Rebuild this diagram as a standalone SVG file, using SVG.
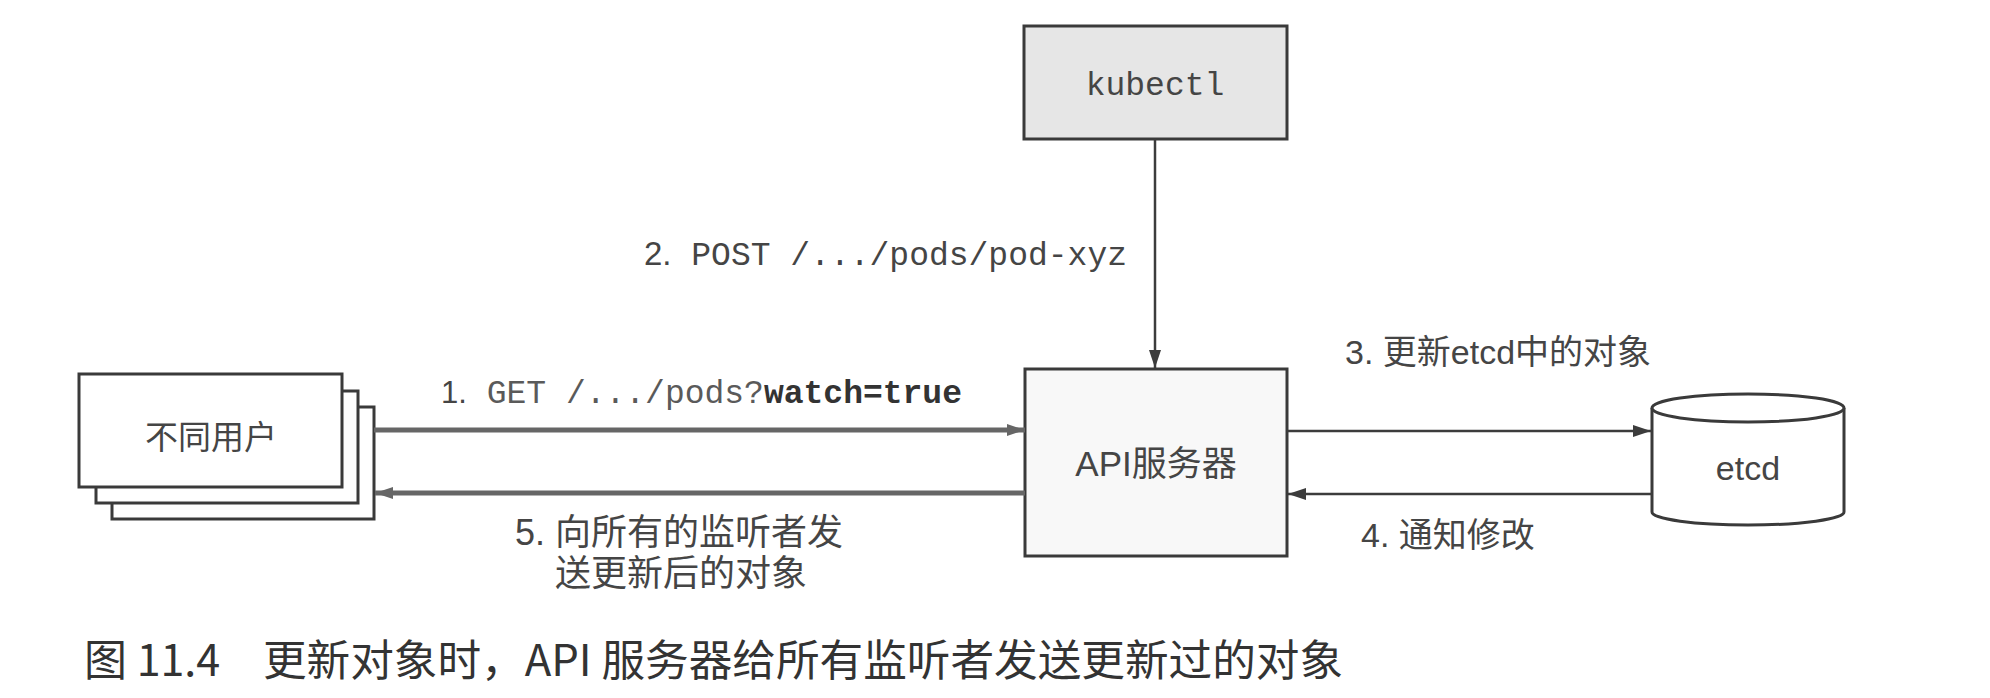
<svg xmlns="http://www.w3.org/2000/svg" width="1990" height="698" viewBox="0 0 1990 698">
<style>
.box{stroke:#3a3a3a;stroke-width:3;fill:#ffffff}
.gray{fill:#e6e6e6}
.api{fill:#f8f8f8}
.lbl{font-family:"Liberation Sans","Noto Sans CJK SC",sans-serif;fill:#454545}
.mono{font-family:"Liberation Mono","DejaVu Sans Mono",monospace}
.thin{stroke:#3c3c3c;stroke-width:2.5;fill:none}
.thick{stroke:#666666;stroke-width:5;fill:none}
.cap{font-family:"Noto Sans CJK SC","Liberation Sans",sans-serif;fill:#333333;font-size:43px}
</style>
<defs>
<marker id="ah" viewBox="0 0 18 12" refX="18" refY="6" markerWidth="18" markerHeight="12" markerUnits="userSpaceOnUse" orient="auto">
<path d="M0,0 L18,6 L0,12 Z" fill="#3c3c3c"/>
</marker>
<marker id="ahg" viewBox="0 0 18 12" refX="18" refY="6" markerWidth="18" markerHeight="12" markerUnits="userSpaceOnUse" orient="auto">
<path d="M0,0 L18,6 L0,12 Z" fill="#666666"/>
</marker>
</defs>
<rect width="1990" height="698" fill="#ffffff"/>

<g id="users">
<rect class="box" x="112" y="407" width="262" height="112"/>
<rect class="box" x="96" y="391" width="262" height="112"/>
<rect class="box" x="79" y="374" width="263" height="113"/>
<text class="lbl" x="211" y="449" font-size="33" text-anchor="middle">不同用户</text>
</g>

<g id="kubectl">
<rect class="box gray" x="1024" y="26" width="263" height="113"/>
<text class="lbl mono" x="1155" y="95" font-size="33" text-anchor="middle">kubectl</text>
</g>

<g id="apiserver">
<rect class="box api" x="1025" y="369" width="262" height="187"/>
<text class="lbl" x="1156" y="476" font-size="35" text-anchor="middle">API服务器</text>
</g>

<g id="etcd">
<path class="box" d="M1652,408 L1652,512 A96,13 0 0 0 1844,512 L1844,408"/>
<ellipse class="box" cx="1748" cy="408" rx="96" ry="14"/>
<text class="lbl" x="1748" y="480" font-size="34" text-anchor="middle">etcd</text>
</g>

<g id="connectors">
<line class="thick" x1="374" y1="430" x2="1025" y2="430" marker-end="url(#ahg)"/>
<line class="thick" x1="1025" y1="493" x2="375" y2="493" marker-end="url(#ahg)"/>
<line class="thin" x1="1155" y1="139" x2="1155" y2="368" marker-end="url(#ah)"/>
<line class="thin" x1="1287" y1="431" x2="1651" y2="431" marker-end="url(#ah)"/>
<line class="thin" x1="1652" y1="494" x2="1288" y2="494" marker-end="url(#ah)"/>
</g>

<g id="labels">
<text class="lbl" x="441" y="403" font-size="31" fill="#666666"><tspan>1.</tspan><tspan class="mono" font-size="33" fill="#5a5a5a"> GET /.../pods?</tspan><tspan class="mono" font-size="33" font-weight="bold" fill="#333333">watch=true</tspan></text>
<text class="lbl" x="1127" y="265" font-size="33" text-anchor="end" fill="#555555"><tspan>2.</tspan><tspan class="mono" font-size="33"> POST /.../pods/pod-xyz</tspan></text>
<text class="lbl" x="1345" y="364" font-size="34">3. 更新etcd中的对象</text>
<text class="lbl" x="1361" y="547" font-size="34">4. 通知修改</text>
<text class="lbl" x="679" y="545" font-size="36" text-anchor="middle">5. 向所有的监听者发</text>
<text class="lbl" x="681" y="586" font-size="36" text-anchor="middle">送更新后的对象</text>
</g>

<g id="caption">
<text class="cap" x="84" y="676">图 11.4</text>
<text class="cap" x="263" y="676" textLength="1080" lengthAdjust="spacingAndGlyphs">更新对象时，API 服务器给所有监听者发送更新过的对象</text>
</g>
</svg>
